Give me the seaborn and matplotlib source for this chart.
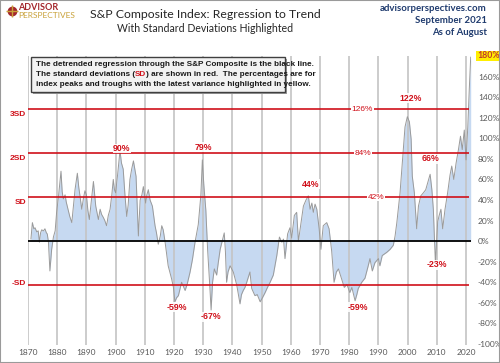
import pandas as pd
import seaborn as sns
import matplotlib.pyplot as plt
from matplotlib import font_manager
from matplotlib.patches import Rectangle

# detrended S&P composite, % above/below regression
years = [
    1871.0, 1871.5, 1872.0, 1872.4, 1873.0, 1873.5, 1873.9, 1874.3, 1874.7, 1875.3,
    1875.8, 1876.3, 1876.6, 1877.0, 1877.5, 1878.1, 1878.7, 1879.3, 1879.8, 1880.5,
    1881.3, 1881.7, 1882.1, 1882.7, 1883.1, 1883.6, 1884.3, 1885.0, 1885.6, 1886.1,
    1886.9, 1887.4, 1887.8, 1888.4, 1889.0, 1889.5, 1890.0, 1890.5, 1891.0, 1891.7,
    1892.4, 1892.8, 1893.2, 1893.6, 1894.1, 1894.7, 1895.2, 1895.8, 1896.3, 1896.9,
    1897.5, 1898.1, 1898.7, 1899.2, 1899.6, 1900.0, 1900.7, 1901.5, 1902.0, 1902.6,
    1903.2, 1903.8, 1904.3, 1904.9, 1905.5, 1906.1, 1906.6, 1907.0, 1907.4, 1907.8,
    1908.4, 1909.0, 1909.5, 1910.3, 1910.7, 1911.2, 1911.8, 1912.6, 1913.5, 1914.0,
    1914.6, 1915.3, 1915.8, 1916.3, 1916.9, 1918.0, 1919.2, 1919.8, 1920.3, 1920.9,
    1921.5, 1922.6, 1923.2, 1923.8, 1924.5, 1925.5, 1926.3, 1927.2, 1928.3, 1929.2,
    1929.7, 1930.2, 1930.9, 1931.5, 1932.3, 1932.7, 1933.2, 1933.8, 1934.6, 1935.2,
    1935.8, 1936.5, 1937.2, 1937.6, 1938.0, 1938.5, 1939.2, 1940.3, 1941.5, 1942.6,
    1943.1, 1943.7, 1944.3, 1944.9, 1946.0, 1946.6, 1947.7, 1948.5, 1949.5, 1950.3,
    1951.2, 1952.0, 1952.9, 1954.0, 1955.2, 1956.1, 1956.9, 1957.5, 1958.0, 1958.9,
    1959.7, 1960.3, 1961.2, 1962.0, 1962.6, 1963.5, 1964.3, 1965.2, 1966.0, 1966.6,
    1967.2, 1967.7, 1968.3, 1968.9, 1969.7, 1970.3, 1971.1, 1972.3, 1973.1, 1974.0,
    1974.8, 1975.6, 1976.3, 1977.4, 1978.3, 1979.2, 1980.2, 1980.9, 1982.0, 1982.6,
    1983.1, 1984.3, 1985.4, 1986.5, 1987.1, 1987.9, 1988.8, 1990.0, 1990.5, 1991.3,
    1992.8, 1994.0, 1995.1, 1995.7, 1996.3, 1997.4, 1998.5, 1999.1, 1999.9, 2000.6,
    2001.2, 2001.6, 2002.3, 2003.1, 2003.7, 2004.5, 2005.4, 2006.2, 2006.9, 2007.7,
    2008.3, 2008.8, 2009.5, 2010.3, 2010.8, 2011.4, 2012.0, 2012.8, 2013.7, 2014.5,
    2015.1, 2015.8, 2016.6, 2017.4, 2018.1, 2018.7, 2019.4, 2020.0, 2020.6, 2021.1,
    2021.6,
]
variance = [
    2, 18, 12, 13, 9, 10, -1, 8, 11, 10,
    12, 8, 7, -1, -29, -8, 4, 10, 28, 45,
    68, 48, 41, 45, 38, 32, 24, 18, 35, 50,
    66, 52, 44, 31, 42, 49, 45, 30, 21, 40,
    58, 46, 34, 28, 21, 31, 26, 23, 20, 15,
    25, 31, 45, 60, 50, 47, 65, 88, 76, 70,
    45, 24, 35, 60, 70, 78, 70, 63, 35, 5,
    40, 45, 53, 37, 45, 50, 40, 34, 15, 8,
    -3, 5, 15, 11, 0, -24, -37, -45, -59, -55,
    -53, -40, -44, -48, -42, -30, -18, -1, 16, 45,
    79, 55, 30, -8, -46, -67, -40, -27, -33, -20,
    -8, 0, 8, -10, -40, -30, -24, -30, -43, -61,
    -52, -48, -45, -40, -30, -46, -53, -52, -59, -55,
    -50, -45, -40, -33, -14, 4, -1, 2, -17, 7,
    13, 3, 25, 28, 0, 18, 34, 40, 44, 31,
    37, 28, 36, 31, 12, -8, 15, 18, 12, -10,
    -40, -30, -27, -37, -45, -42, -50, -45, -58, -52,
    -46, -40, -36, -24, -17, -29, -21, -17, -24, -14,
    -11, -8, -4, 5, 18, 47, 89, 111, 121, 116,
    99, 63, 47, 12, 34, 44, 47, 50, 57, 65,
    50, 31, -21, 19, 25, 31, 12, 31, 47, 64,
    73, 60, 76, 89, 102, 89, 108, 79, 111, 147,
    179,
]

sd_levels = [128.4, 85.6, 42.8, -42.8]
sd_names = ["3SD", "2SD", "SD", "-SD"]
sd_pct = ["126%", "84%", "42%", ""]

peak_years = [1902.1, 1929.9, 1966.9, 2001.2, 2008.0, 1920.9, 1932.7, 1982.8, 2010.0]
peak_vals = [90, 79, 44, 122, 66, -59, -67, -59, -23]

latest = 180

df = pd.DataFrame({"year": years, "variance": variance})

sns.set_theme(style="white")
names = {f.name for f in font_manager.fontManager.ttflist}
narrow = "Liberation Sans Narrow" if "Liberation Sans Narrow" in names else "Liberation Sans"
plt.rcParams["font.family"] = ["Lato", "DejaVu Sans"]

RED = "#d0101a"
GREY = "#595959"
NAVY = "#1f3b6e"

W, H = 500, 363
fig = plt.figure(figsize=(W / 100, H / 100), dpi=100)
ax = fig.add_axes([28 / W, 18 / H, 443 / W, 289 / H])

ax.fill_between(df["year"], df["variance"], 0, color="#c6d9f1", lw=0, zorder=1)
sns.lineplot(data=df, x="year", y="variance", color="#9a9a9a", lw=0.7, ax=ax, zorder=3)

ax.axhline(0, color="black", lw=1.3, zorder=4)
for lvl in sd_levels:
    ax.hlines(lvl, 1870, 2021.0, color=RED, lw=1.2, zorder=4)

ax.set_xlim(1870, 2021.7)
ax.set_ylim(-101, 180)
ax.set_xticks(range(1870, 2030, 10))
ax.set_yticks(range(-100, 180, 20))
ax.set_yticklabels([f"{v}%" for v in range(-100, 180, 20)])
ax.yaxis.tick_right()
ax.tick_params(axis="x", length=0, pad=3, labelsize=6, labelcolor=GREY)
ax.tick_params(axis="y", length=0, pad=5, labelsize=6, labelcolor=GREY)
ax.set_xlabel("")
ax.set_ylabel("")
for s in ax.spines.values():
    s.set_visible(False)
ax.set_axisbelow("line")
ax.xaxis.grid(True, color="#c4c4c4", lw=1.2)
ax.yaxis.grid(False)

# SD names on the left, % on the lines
for lvl, name in zip(sd_levels, sd_names):
    dy = 1 if lvl < 0 else -4
    ax.annotate(name, xy=(0, lvl), xycoords=("axes fraction", "data"),
                xytext=(-1.5, dy), textcoords="offset points", ha="right", va="center",
                fontsize=6, color=RED, fontweight="bold", family=narrow)
for lvl, pct, yr in zip(sd_levels, sd_pct, [1984.4, 1984.7, 1989.2, 0]):
    if pct:
        ax.text(yr, lvl, pct, ha="center", va="center", fontsize=6, color=RED,
                family=narrow, zorder=5,
                bbox=dict(facecolor="white", edgecolor="none", pad=0.6))

# peak / trough labels
offs = [0, 9, 8.3, 12.5, 10.4, -3.8, -5, -3.8, 0]
for yr, v, dy in zip(peak_years, peak_vals, offs):
    ax.annotate(f"{v}%", xy=(yr, v), xytext=(0, dy), textcoords="offset points",
                ha="center", va="center", fontsize=6.3, color=RED, fontweight="bold",
                family=narrow, zorder=6,
                bbox=dict(facecolor="white", edgecolor="none", pad=0.3, alpha=0.9))

ax.annotate(f"{latest}%", xy=(1, latest), xycoords=("axes fraction", "data"),
            xytext=(4.5, 0), textcoords="offset points", ha="left", va="center",
            fontsize=6.3, color="#c0392b", fontweight="bold",
            bbox=dict(facecolor="#ffee00", edgecolor="none", pad=0.6))

# note box
def fx(px):
    return px / W

def fy(py):
    return 1 - py / H

fig.patches.append(Rectangle((fx(33), fy(94)), 254 / W, 35 / H, transform=fig.transFigure,
                             facecolor="#9a9a9a", edgecolor="none", zorder=5))
fig.patches.append(Rectangle((fx(31), fy(92)), 254 / W, 35 / H, transform=fig.transFigure,
                             facecolor="#f2f2f2", edgecolor="#404040", lw=1, zorder=6))
note_kw = dict(fontsize=5.9, fontweight="bold", family=narrow, va="center", zorder=7)
fig.text(fx(36), fy(64), "The detrended regression through the S&P Composite is the black line.",
         color="#1a1a1a", **note_kw)
r = fig.canvas.get_renderer()
x0 = fx(36)
for piece, col in [("The standard deviations (", "#1a1a1a"), ("SD", RED),
                   (") are shown in red.  The percentages are for", "#1a1a1a")]:
    t = fig.text(x0, fy(74.5), piece, color=col, **note_kw)
    x0 += t.get_window_extent(r).width / W
fig.text(fx(36), fy(85), "index peaks and troughs with the latest variance highlighted in yellow.",
         color="#1a1a1a", **note_kw)

# header
fig.text(fx(205), fy(14), "S&P Composite Index: Regression to Trend", ha="center", va="center",
         fontsize=8.8, color="#262626")
fig.text(fx(205), fy(28.5), "With Standard Deviations Highlighted", ha="center", va="center",
         fontsize=7.6, color="#262626")
for txt, py in [("advisorperspectives.com", 8.5), ("September 2021", 20.5), ("As of August", 32.5)]:
    fig.text(fx(487), fy(py), txt, ha="right", va="center", fontsize=6.9,
             fontweight="bold", color=NAVY)

# logo
fig.text(fx(18), fy(8), "ADVISOR", ha="left", va="center", fontsize=6.5, fontweight="bold",
         color="#a3262c")
fig.text(fx(18), fy(15), "PERSPECTIVES", ha="left", va="center", fontsize=6, color="#c9a23a")
fig.add_artist(plt.Line2D([fx(12)], [fy(11)], marker="o", ms=6, color="#a3262c",
                          transform=fig.transFigure))
fig.add_artist(plt.Line2D([fx(12)], [fy(11)], marker="+", ms=9, mew=1, color="#c9a23a",
                          transform=fig.transFigure))

fig.patches.append(Rectangle((0, 0), 1, 1, transform=fig.transFigure, fill=False,
                             edgecolor="#9a9a9a", lw=1.5, zorder=10))

fig.savefig("out.png", dpi=100)
